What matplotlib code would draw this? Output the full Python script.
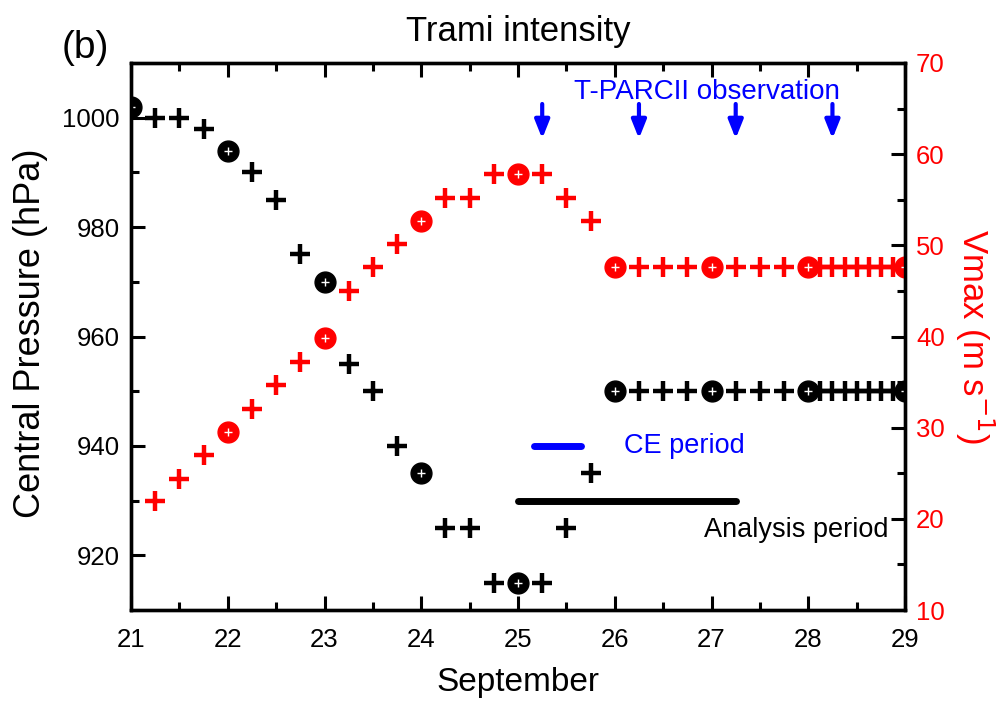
import numpy as np
import matplotlib.pyplot as plt
from matplotlib.ticker import MultipleLocator

plt.rcParams['font.family'] = ['Liberation Sans', 'DejaVu Sans']

# day of September (UTC), 6-hourly then 3-hourly on the last day
days_p = [21.0, 21.25, 21.5, 21.75, 22.0, 22.25, 22.5, 22.75, 23.0, 23.25, 23.5, 23.75,
          24.0, 24.25, 24.5, 24.75, 25.0, 25.25, 25.5, 25.75, 26.0, 26.25, 26.5, 26.75,
          27.0, 27.25, 27.5, 27.75, 28.0, 28.125, 28.25, 28.375, 28.5, 28.625, 28.75,
          28.875, 29.0]
pressure = [1002, 1000, 1000, 998, 994, 990, 985, 975, 970, 955, 950, 940,
            935, 925, 925, 915, 915, 915, 925, 935, 950, 950, 950, 950,
            950, 950, 950, 950, 950, 950, 950, 950, 950, 950, 950,
            950, 950]

days_v = days_p[1:]
vmax = [22.0, 24.4, 27.0, 29.5, 32.1, 34.7, 37.2, 39.8, 45.0, 47.6, 50.1,
        52.7, 55.2, 55.2, 57.8, 57.8, 57.8, 55.2, 52.7, 47.6, 47.6, 47.6, 47.6,
        47.6, 47.6, 47.6, 47.6, 47.6, 47.6, 47.6, 47.6, 47.6, 47.6, 47.6,
        47.6, 47.6]

obs_days = [25.25, 26.25, 27.25, 28.25]
ce_period = [25.17, 25.65]
analysis_period = [25.0, 27.25]

fig = plt.figure(figsize=(10.01, 7.02), dpi=100)
ax = fig.add_axes([0.1309, 0.131, 0.7732, 0.7793])
ax2 = ax.twinx()

def plot_series(a, x, y, color):
    x = np.array(x)
    y = np.array(y)
    full = x == np.round(x)
    a.plot(x[~full], y[~full], ls='none', marker='+', ms=14, mew=3.2, color=color)
    a.plot(x[full], y[full], ls='none', marker='o', ms=15, color=color, mec=color)
    a.plot(x[full], y[full], ls='none', marker='+', ms=6, mew=1.0, color='white')

plot_series(ax2, days_v, vmax, '#ff0000')
plot_series(ax, days_p, pressure, 'black')

# period bars
ax.plot(ce_period, [940, 940], color='#0000ff', lw=5, solid_capstyle='round')
ax.plot(analysis_period, [930, 930], color='black', lw=5, solid_capstyle='round')
ax.text(26.1, 940, 'CE period', color='#0000ff', fontsize=19.5, va='center')
ax.text(28.83, 924.6, 'Analysis period', color='black', fontsize=19.5, va='center', ha='right')

# observation arrows
for d in obs_days:
    ax2.annotate('', xy=(d, 61.7), xytext=(d, 65.5),
                 arrowprops=dict(arrowstyle='-|>,head_length=0.55,head_width=0.22',
                                 color='#0000ff', lw=3.0, mutation_scale=20,
                                 shrinkA=0, shrinkB=0))
ax2.text(26.955, 66.8, 'T-PARCII observation', color='#0000ff', fontsize=20,
         ha='center', va='center')

ax.set_xlim(21, 29)
ax.set_ylim(910, 1010)
ax2.set_ylim(10, 70)

ax.xaxis.set_major_locator(MultipleLocator(1))
ax.xaxis.set_minor_locator(MultipleLocator(0.5))
ax.yaxis.set_major_locator(MultipleLocator(20))
ax.yaxis.set_minor_locator(MultipleLocator(10))
ax2.yaxis.set_major_locator(MultipleLocator(10))
ax2.yaxis.set_minor_locator(MultipleLocator(5))

ax.tick_params(which='both', direction='in', top=True, right=False, width=2.2,
               labelsize=18.5, pad=8)
ax.tick_params(which='major', length=10)
ax.tick_params(which='minor', length=5.5)
ax2.tick_params(which='both', direction='in', width=2.2, labelsize=18.5, pad=8,
                labelcolor='#ff0000')
ax2.tick_params(which='major', length=10)
ax2.tick_params(which='minor', length=5.5)
ax.tick_params(axis='x', pad=13)

for a in (ax, ax2):
    for s in a.spines.values():
        s.set_linewidth(2.4)

ax.set_xlabel('September', fontsize=24, va='center')
ax.xaxis.set_label_coords(0.5, -0.133)
ax.set_ylabel('Central Pressure (hPa)', fontsize=26, va='center')
ax.yaxis.set_label_coords(-0.1305, 0.506)
ax2.set_ylabel('Vmax (m s$^{-1}$)', fontsize=25, color='#ff0000', rotation=270,
               va='center')
ax2.yaxis.set_label_coords(1.09, 0.5)

ax.text(0.5, 1.058, 'Trami intensity', transform=ax.transAxes, fontsize=25,
        ha='center', va='center')
fig.text(0.062, 0.932, '(b)', fontsize=28, va='center')

fig.savefig('out.png', dpi=100)
